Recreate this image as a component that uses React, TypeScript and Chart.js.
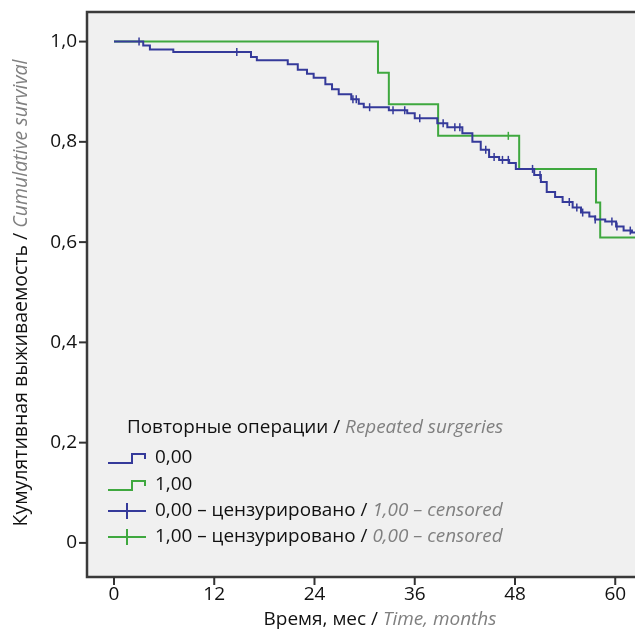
import React, { useEffect, useRef } from "react";
import { Chart, registerables } from "chart.js";
Chart.register(...registerables);

// Group 0,00 (blue): event times (months) and survival after each event
const blueTimes = [3.5, 4.3, 7.1, 16.4, 17.1, 20.8, 22.0, 23.1, 23.9, 25.3, 26.1, 26.9, 28.4, 29.3, 29.9, 32.9, 35.1, 36.0, 38.7, 39.9, 41.7, 42.9, 43.9, 44.9, 46.1, 47.3, 48.1, 50.3, 51.1, 51.8, 52.8, 53.7, 54.9, 55.9, 56.9, 57.6, 58.8, 60.1, 61.0, 62.0];
const blueSurvival = [0.992, 0.984, 0.979, 0.969, 0.963, 0.955, 0.944, 0.936, 0.928, 0.915, 0.905, 0.895, 0.885, 0.876, 0.869, 0.863, 0.857, 0.847, 0.837, 0.829, 0.817, 0.8, 0.784, 0.77, 0.764, 0.758, 0.746, 0.734, 0.72, 0.7, 0.69, 0.68, 0.669, 0.659, 0.651, 0.645, 0.641, 0.631, 0.623, 0.619];
const blueCensored = [3.0, 14.7, 28.6, 29.0, 30.6, 33.4, 34.8, 36.6, 39.4, 40.8, 41.4, 44.5, 45.5, 46.5, 47.2, 50.1, 51.0, 54.5, 55.4, 56.1, 57.6, 59.6, 60.2, 61.8];

// Group 1,00 (green)
const greenTimes = [31.6, 32.9, 38.8, 48.5, 57.7, 58.2];
const greenSurvival = [0.938, 0.875, 0.812, 0.746, 0.679, 0.609];
const greenCensored = [47.2];

const followUpEnd = 64.5;

const xTicks = [0, 12, 24, 36, 48, 60];
const xTickLabels = ["0", "12", "24", "36", "48", "60"];
const yTicks = [0, 0.2, 0.4, 0.6, 0.8, 1.0];
const yTickLabels = ["0", "0,2", "0,4", "0,6", "0,8", "1,0"];

const BLUE = "#353a9a";
const GREEN = "#3fa83f";
const GRAY = "#808080";
const FONT = "'Open Sans', 'Noto Sans', sans-serif";

function stepPoints(times: number[], surv: number[], end: number) {
  const pts = [{ x: 0, y: 1 }];
  times.forEach((t, i) => pts.push({ x: t, y: surv[i] }));
  pts.push({ x: end, y: surv[surv.length - 1] });
  return pts;
}

function survAt(times: number[], surv: number[], t: number) {
  let s = 1;
  for (let i = 0; i < times.length; i++) if (times[i] <= t) s = surv[i];
  return s;
}

type Part = { text: string; italic?: boolean; color: string };

function drawMixed(ctx: CanvasRenderingContext2D, parts: Part[], x: number, y: number, size: number, align: "left" | "center") {
  const fontOf = (p: Part) => `${p.italic ? "italic " : ""}${size}px ${FONT}`;
  let total = 0;
  parts.forEach((p) => {
    ctx.font = fontOf(p);
    total += ctx.measureText(p.text).width;
  });
  let cx = align === "center" ? x - total / 2 : x;
  ctx.textBaseline = "middle";
  ctx.textAlign = "left";
  parts.forEach((p) => {
    ctx.font = fontOf(p);
    ctx.fillStyle = p.color;
    ctx.fillText(p.text, cx, y);
    cx += ctx.measureText(p.text).width;
  });
}

const decor = {
  id: "decor",
  beforeDatasetsDraw(chart: any) {
    const { ctx, chartArea: a } = chart;
    ctx.save();
    ctx.fillStyle = "#f0f0f0";
    ctx.fillRect(a.left, a.top, a.right - a.left, a.bottom - a.top);
    ctx.restore();
  },
  afterDraw(chart: any) {
    const { ctx, chartArea: a } = chart;
    const xs = chart.scales.x;
    const ys = chart.scales.y;
    ctx.save();
    // frame
    ctx.strokeStyle = "#3a3a3a";
    ctx.lineWidth = 2.5;
    ctx.strokeRect(a.left, a.top, a.right - a.left, a.bottom - a.top);

    // y ticks
    ctx.lineWidth = 2;
    ctx.strokeStyle = "#333";
    yTicks.forEach((v, i) => {
      const py = ys.getPixelForValue(v);
      ctx.beginPath();
      ctx.moveTo(a.left - 8, py);
      ctx.lineTo(a.left, py);
      ctx.stroke();
      ctx.font = `19px ${FONT}`;
      ctx.fillStyle = "#111";
      ctx.textAlign = "right";
      ctx.textBaseline = "middle";
      ctx.fillText(yTickLabels[i], a.left - 10, py);
    });
    // x ticks
    xTicks.forEach((v, i) => {
      const px = xs.getPixelForValue(v);
      ctx.beginPath();
      ctx.moveTo(px, a.bottom);
      ctx.lineTo(px, a.bottom + 8);
      ctx.stroke();
      ctx.font = `19px ${FONT}`;
      ctx.fillStyle = "#111";
      ctx.textAlign = "center";
      ctx.textBaseline = "middle";
      ctx.fillText(xTickLabels[i], px, a.bottom + 18);
    });

    // axis titles
    drawMixed(ctx, [
      { text: "Время, мес / ", color: "#111" },
      { text: "Time, months", italic: true, color: GRAY },
    ], 380, a.bottom + 43, 19, "center");

    ctx.save();
    ctx.translate(21, 293);
    ctx.rotate(-Math.PI / 2);
    drawMixed(ctx, [
      { text: "Кумулятивная выживаемость / ", color: "#111" },
      { text: "Cumulative survival", italic: true, color: GRAY },
    ], 0, 0, 19.5, "center");
    ctx.restore();

    // legend
    drawMixed(ctx, [
      { text: "Повторные операции / ", color: "#111" },
      { text: "Repeated surgeries", italic: true, color: GRAY },
    ], 127, 428, 18.9, "left");

    const sx0 = 108, sx1 = 146, tx = 155;
    const rows = [458, 485, 511, 537];
    const drawStep = (y: number, color: string) => {
      ctx.strokeStyle = color;
      ctx.lineWidth = 2;
      ctx.beginPath();
      ctx.moveTo(sx0, y + 5);
      ctx.lineTo(sx0 + 24, y + 5);
      ctx.lineTo(sx0 + 24, y - 4);
      ctx.lineTo(sx1 - 1, y - 4);
      ctx.lineTo(sx1 - 1, y + 1);
      ctx.stroke();
    };
    const drawCross = (y: number, color: string) => {
      ctx.strokeStyle = color;
      ctx.lineWidth = 2;
      ctx.beginPath();
      ctx.moveTo(sx0, y);
      ctx.lineTo(sx1, y);
      ctx.moveTo((sx0 + sx1) / 2, y - 8);
      ctx.lineTo((sx0 + sx1) / 2, y + 8);
      ctx.stroke();
    };
    drawStep(rows[0], BLUE);
    drawMixed(ctx, [{ text: "0,00", color: "#111" }], tx, rows[0], 18.9, "left");
    drawStep(rows[1], GREEN);
    drawMixed(ctx, [{ text: "1,00", color: "#111" }], tx, rows[1], 18.9, "left");
    drawCross(rows[2], BLUE);
    drawMixed(ctx, [
      { text: "0,00 – цензурировано / ", color: "#111" },
      { text: "1,00 – censored", italic: true, color: GRAY },
    ], tx, rows[2], 18.9, "left");
    drawCross(rows[3], GREEN);
    drawMixed(ctx, [
      { text: "1,00 – цензурировано / ", color: "#111" },
      { text: "0,00 – censored", italic: true, color: GRAY },
    ], tx, rows[3], 18.9, "left");
    ctx.restore();
  },
};

export default function App() {
  const ref = useRef<HTMLCanvasElement>(null);
  useEffect(() => {
    if (!ref.current) return;
    const chart = new Chart(ref.current, {
      type: "line",
      data: {
        datasets: [
          {
            data: stepPoints(blueTimes, blueSurvival, followUpEnd),
            borderColor: BLUE,
            borderWidth: 2,
            stepped: true,
            pointRadius: 0,
            fill: false,
          },
          {
            type: "scatter" as any,
            data: blueCensored.map((t) => ({ x: t, y: survAt(blueTimes, blueSurvival, t) })),
            pointStyle: "line",
            rotation: 90,
            pointRadius: 4,
            borderColor: BLUE,
            backgroundColor: BLUE,
            pointBorderWidth: 1.5,
            showLine: false,
          } as any,
          {
            data: stepPoints(greenTimes, greenSurvival, followUpEnd),
            borderColor: GREEN,
            borderWidth: 2,
            stepped: true,
            pointRadius: 0,
            fill: false,
          },
          {
            type: "scatter" as any,
            data: greenCensored.map((t) => ({ x: t, y: survAt(greenTimes, greenSurvival, t) })),
            pointStyle: "line",
            rotation: 90,
            pointRadius: 4,
            borderColor: GREEN,
            backgroundColor: GREEN,
            pointBorderWidth: 1.5,
            showLine: false,
          } as any,
        ],
      },
      options: {
        animation: false,
        responsive: false,
        layout: { padding: { left: 87, top: 12, right: 10, bottom: 55 } },
        plugins: { legend: { display: false }, tooltip: { enabled: false } },
        scales: {
          x: { type: "linear", min: -3.23, max: 64.16, display: false },
          y: { type: "linear", min: -0.068, max: 1.059, display: false },
        },
      },
      plugins: [decor],
    });
    return () => chart.destroy();
  }, []);
  return (
    <div style={{ position: "fixed", left: 0, top: 0, width: 635, height: 632, overflow: "hidden", background: "#fff" }}>
      <canvas ref={ref} width={660} height={632} style={{ width: 660, height: 632, display: "block" }} />
    </div>
  );
}
